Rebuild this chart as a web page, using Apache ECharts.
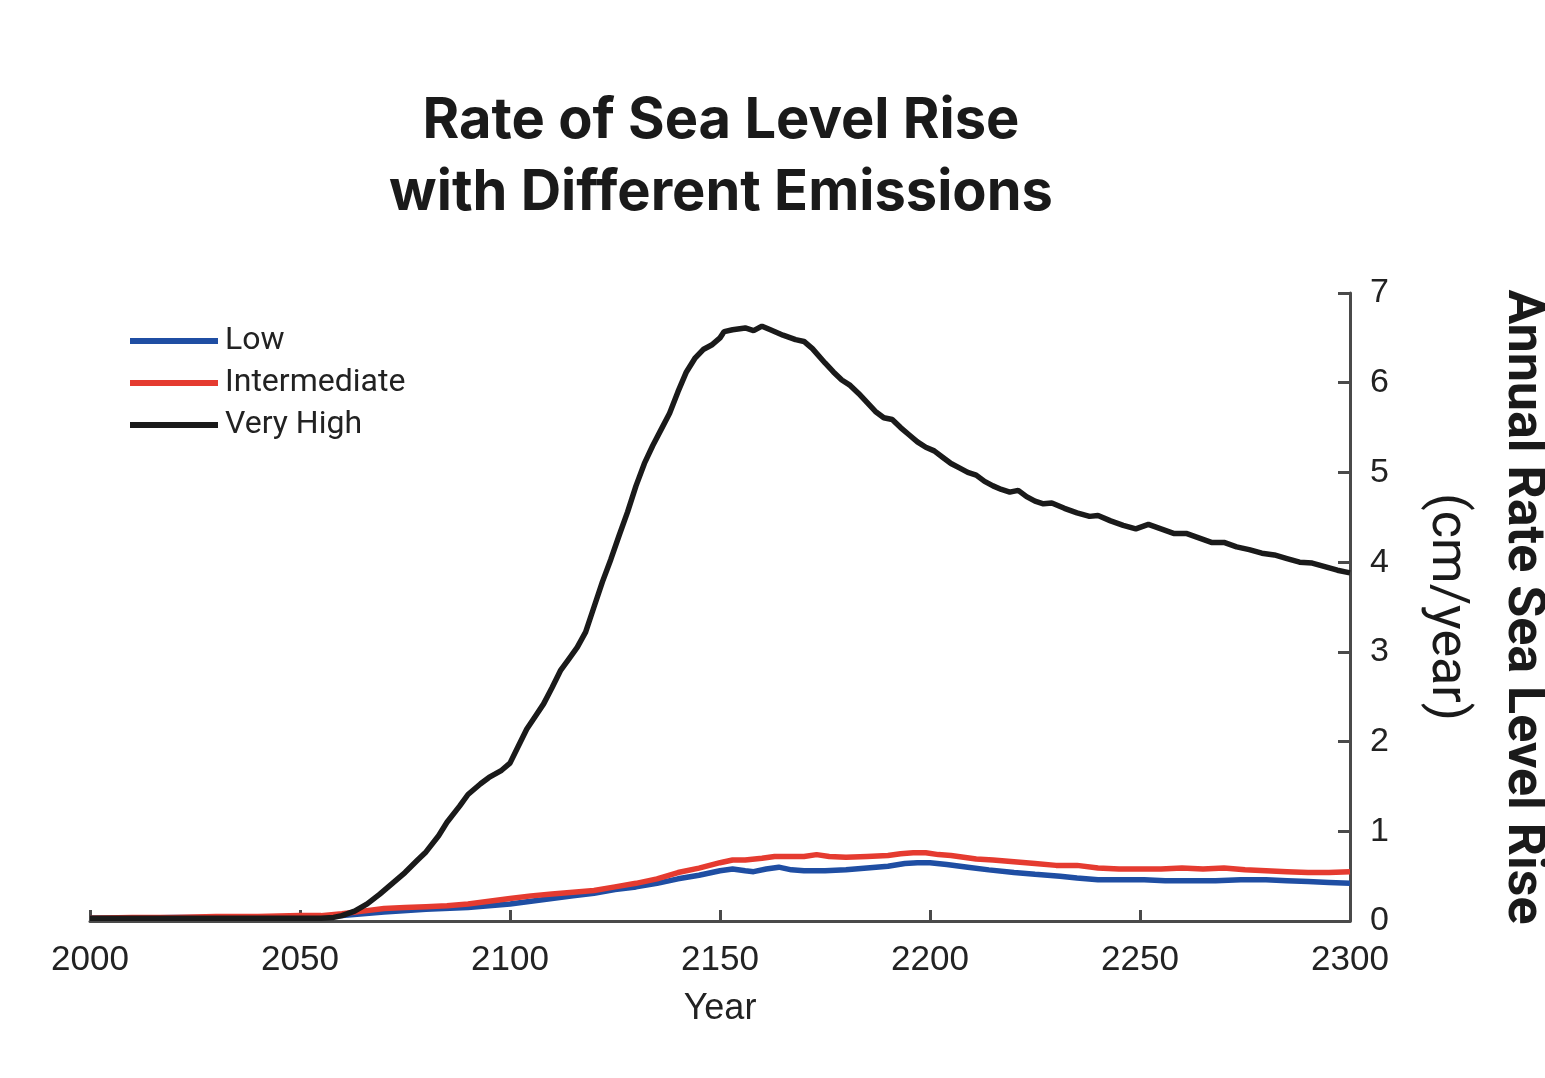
<!DOCTYPE html>
<html>
<head>
<meta charset="utf-8">
<script src="https://cdn.jsdelivr.net/npm/echarts@6/dist/echarts.min.js"></script>
<style>
html,body{margin:0;padding:0;background:#fff;}
#chart{width:1545px;height:1078px;}
</style>
</head>
<body>
<div id="chart"></div>
<script>
const titleLines = ['Rate of Sea Level Rise', 'with Different Emissions'];
const seriesNames = ['Low', 'Intermediate', 'Very High'];
const xTicks = [2000, 2050, 2100, 2150, 2200, 2250, 2300];
const yTicks = [0, 1, 2, 3, 4, 5, 6, 7];

const lowData = [
  [2000,0.03],[2010,0.03],[2020,0.04],[2030,0.04],[2040,0.04],[2050,0.05],[2055,0.05],[2060,0.06],[2065,0.08],
  [2070,0.10],[2080,0.13],[2090,0.15],[2095,0.17],[2100,0.19],[2105,0.22],[2110,0.25],[2115,0.28],[2120,0.31],
  [2125,0.35],[2130,0.38],[2135,0.42],[2140,0.47],[2145,0.51],[2150,0.56],[2153,0.58],[2156,0.56],[2158,0.55],
  [2161,0.58],[2164,0.60],[2167,0.57],[2170,0.56],[2175,0.56],[2180,0.57],[2185,0.59],[2190,0.61],[2194,0.64],
  [2197,0.65],[2200,0.65],[2204,0.63],[2209,0.60],[2214,0.57],[2220,0.54],[2225,0.52],[2231,0.50],[2235,0.48],
  [2240,0.46],[2245,0.46],[2251,0.46],[2256,0.45],[2262,0.45],[2268,0.45],[2274,0.46],[2280,0.46],[2285,0.45],
  [2290,0.44],[2295,0.43],[2300,0.42]
];
const intermediateData = [
  [2000,0.03],[2010,0.04],[2020,0.04],[2030,0.05],[2040,0.05],[2050,0.06],[2055,0.06],[2060,0.08],[2065,0.11],
  [2070,0.14],[2075,0.15],[2080,0.16],[2085,0.17],[2090,0.19],[2095,0.22],[2100,0.25],[2105,0.28],[2110,0.30],
  [2115,0.32],[2120,0.34],[2125,0.38],[2130,0.42],[2135,0.47],[2140,0.54],[2145,0.59],[2150,0.65],[2153,0.68],
  [2156,0.68],[2160,0.70],[2163,0.72],[2166,0.72],[2170,0.72],[2173,0.74],[2176,0.72],[2180,0.71],[2185,0.72],
  [2190,0.73],[2193,0.75],[2196,0.76],[2199,0.76],[2202,0.74],[2205,0.73],[2208,0.71],[2211,0.69],[2215,0.68],
  [2220,0.66],[2225,0.64],[2230,0.62],[2235,0.62],[2240,0.59],[2245,0.58],[2250,0.58],[2255,0.58],[2260,0.59],
  [2265,0.58],[2270,0.59],[2275,0.57],[2280,0.56],[2285,0.55],[2290,0.54],[2295,0.54],[2300,0.55]
];
const veryHighData = [
  [2000,0.03],[2010,0.03],[2020,0.03],[2030,0.03],[2040,0.03],[2050,0.03],[2055,0.03],[2058,0.04],[2060,0.06],
  [2063,0.11],[2066,0.19],[2069,0.30],[2072,0.42],[2075,0.54],[2078,0.68],[2080,0.77],[2083,0.95],[2085,1.10],
  [2088,1.28],[2090,1.41],[2093,1.53],[2095,1.60],[2098,1.68],[2100,1.76],[2102,1.95],[2104,2.14],[2106,2.28],
  [2108,2.42],[2110,2.60],[2112,2.79],[2114,2.92],[2116,3.05],[2118,3.22],[2120,3.50],[2122,3.78],[2124,4.03],
  [2126,4.30],[2128,4.56],[2130,4.85],[2132,5.10],[2134,5.30],[2136,5.48],[2138,5.66],[2140,5.90],[2142,6.12],
  [2144,6.27],[2146,6.37],[2148,6.42],[2150,6.50],[2151,6.57],[2153,6.59],[2156,6.61],[2158,6.58],[2160,6.63],
  [2162,6.59],[2165,6.53],[2168,6.48],[2170,6.46],[2172,6.38],[2175,6.22],[2177,6.12],[2179,6.03],[2181,5.97],
  [2183,5.88],[2185,5.78],[2187,5.68],[2189,5.61],[2191,5.59],[2193,5.50],[2195,5.42],[2197,5.34],[2199,5.28],
  [2201,5.24],[2203,5.17],[2205,5.10],[2207,5.05],[2209,5.00],[2211,4.97],[2213,4.90],[2215,4.85],[2217,4.81],
  [2219,4.78],[2221,4.80],[2223,4.73],[2225,4.68],[2227,4.65],[2229,4.66],[2232,4.60],[2235,4.55],[2238,4.51],
  [2240,4.52],[2243,4.46],[2246,4.41],[2249,4.37],[2252,4.42],[2255,4.37],[2258,4.32],[2261,4.32],[2264,4.27],
  [2267,4.22],[2270,4.22],[2273,4.17],[2276,4.14],[2279,4.10],[2282,4.08],[2285,4.04],[2288,4.00],[2291,3.99],
  [2294,3.95],[2297,3.91],[2300,3.88]
];
const colors = ['#1f4ea3', '#e53b30', '#1a1a1a'];

const chart = echarts.init(document.getElementById('chart'), null, {renderer: 'canvas'});
const axisColor = '#4a4a4a';
const tickFont = '"Liberation Sans", Arial, sans-serif';
const condFont = 'Roboto, sans-serif';

chart.setOption({
  backgroundColor: '#ffffff',
  animation: false,
  title: {
    text: titleLines.join('\n'),
    left: 716,
    top: 80,
    textAlign: 'center',
    textStyle: {
      fontFamily: 'Inter, "Liberation Sans", sans-serif',
      fontWeight: 'bold',
      fontSize: 56,
      lineHeight: 72,
      color: '#1a1a1a'
    }
  },
  legend: {
    data: seriesNames,
    orient: 'vertical',
    left: 125,
    top: 320,
    itemWidth: 88,
    itemHeight: 6,
    itemGap: 10,
    icon: 'rect',
    textStyle: {
      fontFamily: condFont,
      fontSize: 32,
      color: '#222',
      padding: [0, 0, 0, 2]
    }
  },
  grid: {
    left: 90,
    right: 195,
    top: 293,
    bottom: 157,
    containLabel: false,
    outerBoundsMode: 'none'
  },
  xAxis: {
    type: 'value',
    min: xTicks[0],
    max: xTicks[xTicks.length - 1],
    interval: 50,
    name: 'Year',
    nameLocation: 'middle',
    nameGap: 70,
    nameTextStyle: {fontFamily: tickFont, fontSize: 36, color: '#222'},
    axisLine: {show: true, onZero: false, lineStyle: {color: axisColor, width: 3}},
    axisTick: {show: true, inside: true, length: 11, lineStyle: {color: axisColor, width: 3}},
    axisLabel: {fontFamily: tickFont, fontSize: 35, color: '#222', margin: 22, formatter: v => String(v)},
    splitLine: {show: false}
  },
  yAxis: {
    type: 'value',
    position: 'right',
    min: yTicks[0],
    max: yTicks[yTicks.length - 1],
    interval: 1,
    name: '{a|Annual Rate Sea Level Rise}\n{b|(cm/year)}',
    nameLocation: 'middle',
    nameRotate: -90,
    nameGap: 58,
    nameTextStyle: {
      rich: {
        a: {fontFamily: condFont, fontWeight: 'bold', fontSize: 52, color: '#1a1a1a', lineHeight: 76},
        b: {fontFamily: condFont, fontSize: 52, color: '#1a1a1a', lineHeight: 76}
      }
    },
    axisLine: {show: true, lineStyle: {color: axisColor, width: 3}},
    axisTick: {show: true, inside: true, length: 12, lineStyle: {color: axisColor, width: 3}},
    axisLabel: {fontFamily: tickFont, fontSize: 34, color: '#222', margin: 20},
    splitLine: {show: false}
  },
  series: [
    {name: seriesNames[0], type: 'line', data: lowData, showSymbol: false, color: colors[0], lineStyle: {width: 5.5, color: colors[0]}, z: 2},
    {name: seriesNames[1], type: 'line', data: intermediateData, showSymbol: false, color: colors[1], lineStyle: {width: 5.5, color: colors[1]}, z: 3},
    {name: seriesNames[2], type: 'line', data: veryHighData, showSymbol: false, color: colors[2], lineStyle: {width: 5.5, color: colors[2]}, z: 4}
  ]
});
</script>
</body>
</html>
